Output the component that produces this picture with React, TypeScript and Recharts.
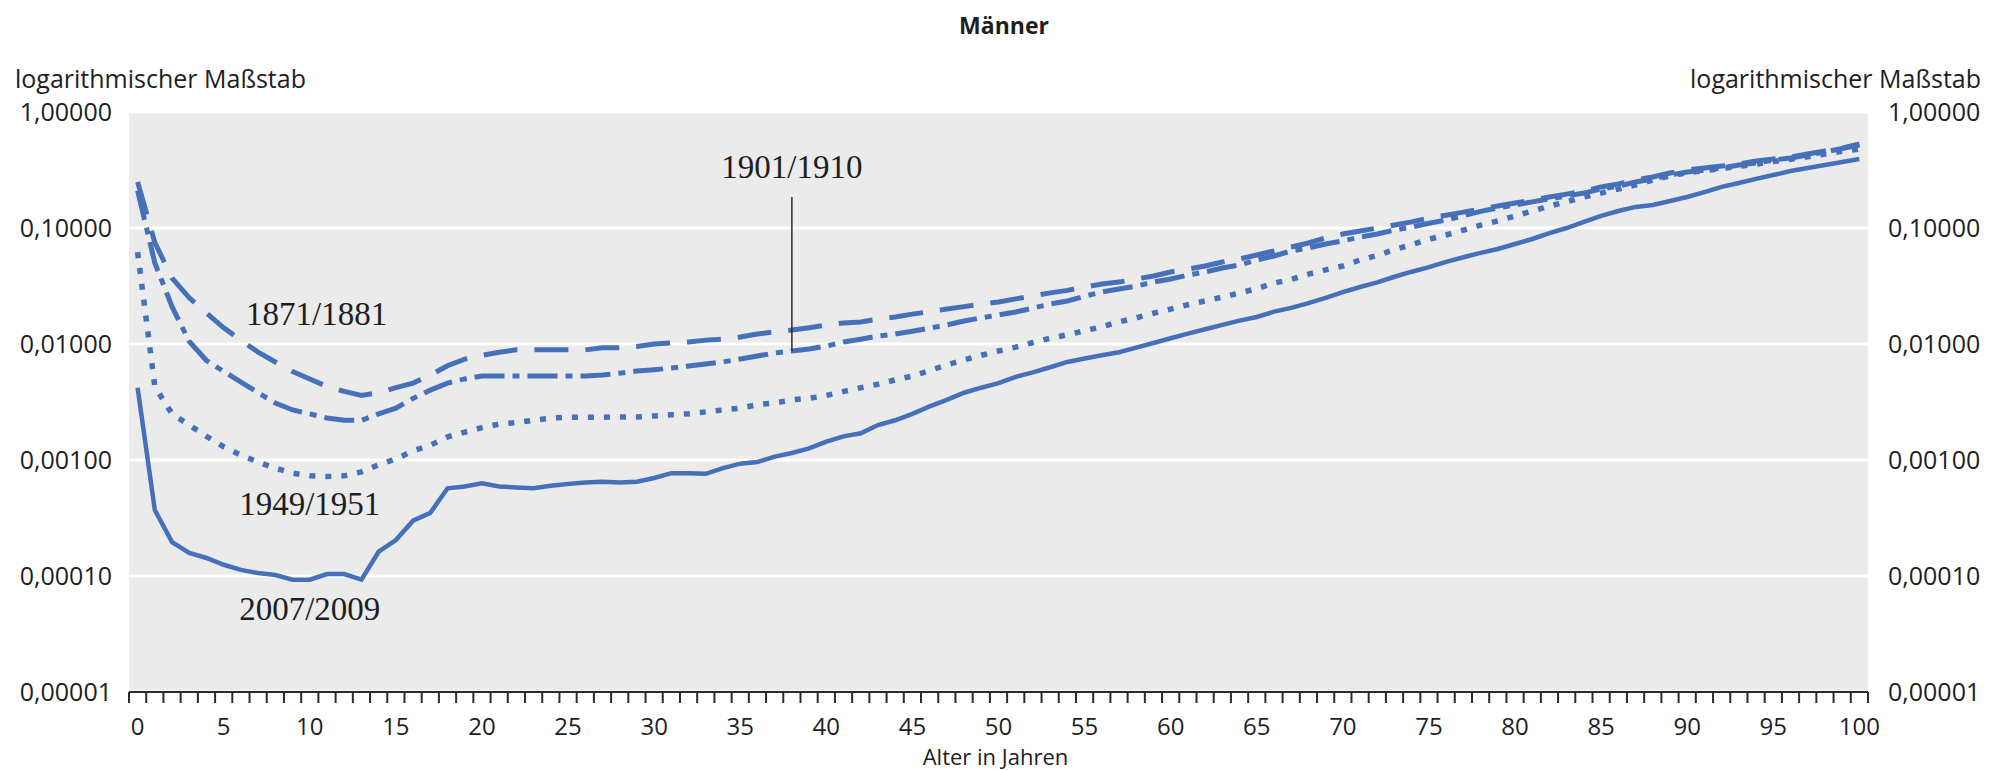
import {
  CartesianGrid,
  Line,
  LineChart,
  ReferenceDot,
  ReferenceLine,
  XAxis,
  YAxis,
} from "recharts";

// Sterbewahrscheinlichkeiten (qx), Männer, Alter 0 bis 100
const ages = [
  0, 1, 2, 3, 4, 5, 6, 7, 8, 9, 10, 11, 12, 13, 14, 15, 16, 17, 18, 19, 20,
  21, 22, 23, 24, 25, 26, 27, 28, 29, 30, 31, 32, 33, 34, 35, 36, 37, 38, 39,
  40, 41, 42, 43, 44, 45, 46, 47, 48, 49, 50, 51, 52, 53, 54, 55, 56, 57, 58,
  59, 60, 61, 62, 63, 64, 65, 66, 67, 68, 69, 70, 71, 72, 73, 74, 75, 76, 77,
  78, 79, 80, 81, 82, 83, 84, 85, 86, 87, 88, 89, 90, 91, 92, 93, 94, 95, 96,
  97, 98, 99, 100,
];

const q1871 = [
  0.25, 0.075, 0.037, 0.025, 0.0185, 0.0138, 0.0108, 0.0085, 0.007, 0.0058,
  0.005, 0.0043, 0.0039, 0.0036, 0.0038, 0.0042, 0.0046, 0.0054, 0.0065,
  0.0074, 0.008, 0.0085, 0.0089, 0.0089, 0.0089, 0.0089, 0.0089, 0.0093,
  0.0093, 0.0095, 0.01, 0.0102, 0.0104, 0.0108, 0.011, 0.0115, 0.0122, 0.0127,
  0.0132, 0.0138, 0.0146, 0.0152, 0.0155, 0.0164, 0.0171, 0.0181, 0.019,
  0.02, 0.021, 0.0221, 0.023, 0.0245, 0.026, 0.0276, 0.029, 0.031, 0.0329,
  0.0342, 0.0363, 0.0386, 0.0418, 0.0443, 0.047, 0.0509, 0.0541, 0.0585,
  0.0634, 0.0686, 0.0743, 0.082, 0.0887, 0.0942, 0.1, 0.106, 0.113, 0.122,
  0.129, 0.137, 0.146, 0.155, 0.164, 0.174, 0.185, 0.196, 0.208, 0.226, 0.24,
  0.259, 0.275, 0.298, 0.316, 0.329, 0.342, 0.356, 0.378, 0.394, 0.409, 0.435,
  0.461, 0.49, 0.53,
];

const q1901 = [
  0.21, 0.05, 0.021, 0.0105, 0.0072, 0.0058, 0.0047, 0.0038, 0.0031, 0.0027,
  0.0025, 0.0023, 0.0022, 0.0022, 0.0025, 0.0028, 0.0034, 0.004, 0.0046,
  0.005, 0.0053, 0.0053, 0.0053, 0.0053, 0.0053, 0.0053, 0.0053, 0.0054,
  0.0056, 0.00585, 0.006, 0.0062, 0.00646, 0.00672, 0.007, 0.00743, 0.00788,
  0.00836, 0.0087, 0.00906, 0.0096, 0.0104, 0.011, 0.0117, 0.0122, 0.0129,
  0.0137, 0.0146, 0.0158, 0.0168, 0.0178, 0.0189, 0.0204, 0.0221, 0.0235,
  0.0258, 0.0281, 0.0298, 0.0316, 0.0342, 0.0363, 0.0393, 0.0418, 0.0452,
  0.048, 0.053, 0.0574, 0.0634, 0.0673, 0.0728, 0.0773, 0.0836, 0.0887,
  0.0961, 0.102, 0.11, 0.117, 0.128, 0.139, 0.149, 0.158, 0.168, 0.178, 0.189,
  0.2, 0.217, 0.23, 0.249, 0.265, 0.286, 0.304, 0.316, 0.329, 0.349, 0.363,
  0.386, 0.401, 0.426, 0.452, 0.485, 0.52,
];

const q1949 = [
  0.062, 0.0043, 0.0025, 0.002, 0.0016, 0.0013, 0.0011, 0.00096, 0.00085,
  0.00077, 0.00073, 0.00072, 0.00073, 0.00079, 0.00091, 0.00102, 0.0012,
  0.00134, 0.00158, 0.00174, 0.0019, 0.00204, 0.0021, 0.0022, 0.0023,
  0.00234, 0.00234, 0.00234, 0.00235, 0.00235, 0.0024, 0.00245, 0.0025,
  0.0026, 0.0027, 0.0028, 0.003, 0.0031, 0.0033, 0.0034, 0.0036, 0.0039,
  0.0042, 0.0045, 0.0049, 0.0053, 0.0059, 0.0066, 0.0073, 0.008, 0.0087,
  0.0094, 0.0103, 0.0112, 0.012, 0.013, 0.0141, 0.0155, 0.0168, 0.0184, 0.02,
  0.0218, 0.0235, 0.0254, 0.0275, 0.03, 0.0335, 0.036, 0.04, 0.0436, 0.047,
  0.053, 0.058, 0.065, 0.072, 0.08, 0.087, 0.096, 0.106, 0.115, 0.127, 0.14,
  0.155, 0.168, 0.185, 0.2, 0.217, 0.235, 0.259, 0.281, 0.3, 0.312, 0.325,
  0.34, 0.355, 0.375, 0.392, 0.412, 0.435, 0.458, 0.48,
];

const q2007 = [
  0.0042, 0.00037, 0.000196, 0.000158, 0.000143, 0.000125, 0.000113,
  0.000106, 0.000102, 0.000093, 0.000093, 0.000104, 0.000104, 0.000093,
  0.000162, 0.000204, 0.0003, 0.00035, 0.00057, 0.00059, 0.00063, 0.00059,
  0.00058, 0.00057, 0.0006, 0.00062, 0.00064, 0.00065, 0.00064, 0.00065,
  0.0007, 0.00077, 0.00077, 0.00076, 0.00085, 0.00093, 0.00096, 0.00107,
  0.00115, 0.00126, 0.00144, 0.0016, 0.0017, 0.002, 0.0022, 0.0025, 0.0029,
  0.0033, 0.0038, 0.0042, 0.0046, 0.0052, 0.0057, 0.0063, 0.007, 0.0075,
  0.008, 0.0085, 0.0093, 0.0102, 0.0112, 0.0123, 0.0134, 0.0146, 0.0159,
  0.0171, 0.019, 0.0205, 0.0225, 0.025, 0.028, 0.031, 0.034, 0.038, 0.042,
  0.046, 0.051, 0.056, 0.061, 0.0659, 0.0728, 0.0804, 0.0905, 0.1, 0.113,
  0.127, 0.14, 0.152, 0.158, 0.171, 0.185, 0.204, 0.226, 0.244, 0.265, 0.286,
  0.31, 0.329, 0.349, 0.371, 0.394,
];

const yTicks = [0.00001, 0.0001, 0.001, 0.01, 0.1, 1];

const seriesLabels = [
  { text: "1871/1881", age: 10.4, q: 0.0185 },
  { text: "1901/1910", age: 38, q: 0.342 },
  { text: "1949/1951", age: 10, q: 0.00042 },
  { text: "2007/2009", age: 10, q: 0.000053 },
];

// Hinweislinie von "1901/1910" auf die Kurve
const pointer = { age: 38, from: 0.185, to: 0.0087 };

const W = 1991;
const H = 771;
const LEFT_W = 129;
const RIGHT_W = 123;
const STEP = (W - LEFT_W - RIGHT_W) / ages.length;

const BLUE = "#4670b9";
const AXIS = "#2b2b2b";
const TEXT = "#1e1e1e";
const SANS = "'Open Sans', sans-serif";
const SERIF = "'Liberation Serif', serif";

const data = ages.map((age, i) => ({
  age,
  q1871: q1871[i],
  q1901: q1901[i],
  q1949: q1949[i],
  q2007: q2007[i],
}));

const fmt = (v: number) => v.toFixed(5).replace(".", ",");

function AgeTick(props: any) {
  const { x, y, payload } = props;
  const v = payload.value as number;
  const half = STEP / 2;
  return (
    <g>
      <line x1={x - half} x2={x - half} y1={y} y2={y + 11} stroke={AXIS} strokeWidth={2} />
      {v === ages[ages.length - 1] && (
        <line x1={x + half} x2={x + half} y1={y} y2={y + 11} stroke={AXIS} strokeWidth={2} />
      )}
      {v % 5 === 0 && (
        <text
          x={x}
          y={y + 34}
          dy="0.355em"
          textAnchor="middle"
          fill={TEXT}
          fontSize={24}
          fontFamily={SANS}
        >
          {v}
        </text>
      )}
    </g>
  );
}

const overlay = {
  position: "absolute" as const,
  fontFamily: SANS,
  color: TEXT,
  lineHeight: 1,
  whiteSpace: "nowrap" as const,
};

export default function App() {
  return (
    <div style={{ position: "absolute", left: 0, top: 0, width: W, height: H, background: "#fff" }}>
      <div style={{ ...overlay, left: 904, width: 200, top: 14, textAlign: "center", fontSize: 23, fontWeight: 700 }}>
        Männer
      </div>
      <div style={{ ...overlay, left: 15, top: 66, fontSize: 25 }}>logarithmischer Maßstab</div>
      <div style={{ ...overlay, right: 10, top: 66, fontSize: 25 }}>logarithmischer Maßstab</div>
      <div style={{ ...overlay, left: 0, width: W, top: 745, textAlign: "center", fontSize: 22 }}>
        Alter in Jahren
      </div>

      <LineChart width={W} height={H} data={data} margin={{ top: 112, right: 0, bottom: 0, left: 0 }}>
        <CartesianGrid
          yAxisId="left"
          vertical={false}
          stroke="#ffffff"
          strokeWidth={3}
          fill="#ebebeb"
          fillOpacity={1}
        />
        <XAxis
          dataKey="age"
          type="number"
          domain={[-0.5, 100.5]}
          ticks={ages}
          interval={0}
          height={79}
          tickSize={0}
          tickMargin={0}
          tickLine={false}
          axisLine={{ stroke: AXIS, strokeWidth: 2 }}
          tick={(p: any) => <AgeTick {...p} />}
        />
        <YAxis
          yAxisId="left"
          type="number"
          scale="log"
          domain={[0.00001, 1]}
          ticks={yTicks}
          interval={0}
          allowDataOverflow
          width={LEFT_W}
          tickSize={0}
          tickMargin={17}
          axisLine={false}
          tickLine={false}
          tickFormatter={fmt}
          tick={{ fill: TEXT, fontSize: 25, fontFamily: SANS }}
        />
        <YAxis
          yAxisId="right"
          orientation="right"
          type="number"
          scale="log"
          domain={[0.00001, 1]}
          ticks={yTicks}
          interval={0}
          allowDataOverflow
          width={RIGHT_W}
          tickSize={0}
          tickMargin={20}
          axisLine={false}
          tickLine={false}
          tickFormatter={fmt}
          tick={{ fill: TEXT, fontSize: 25, fontFamily: SANS, textAnchor: "start" }}
        />
        <Line
          yAxisId="left"
          type="linear"
          dataKey="q1871"
          stroke={BLUE}
          strokeWidth={5}
          strokeDasharray="34 17"
          dot={false}
          isAnimationActive={false}
        />
        <Line
          yAxisId="left"
          type="linear"
          dataKey="q1901"
          stroke={BLUE}
          strokeWidth={5}
          strokeDasharray="30 8 7 8"
          dot={false}
          isAnimationActive={false}
        />
        <Line
          yAxisId="left"
          type="linear"
          dataKey="q1949"
          stroke={BLUE}
          strokeWidth={5.5}
          strokeDasharray="6 10"
          dot={false}
          isAnimationActive={false}
        />
        <Line
          yAxisId="left"
          type="linear"
          dataKey="q2007"
          stroke={BLUE}
          strokeWidth={4.5}
          dot={false}
          isAnimationActive={false}
        />
        <ReferenceLine
          yAxisId="left"
          segment={[
            { x: pointer.age, y: pointer.from },
            { x: pointer.age, y: pointer.to },
          ]}
          stroke={AXIS}
          strokeWidth={1.5}
        />
        {seriesLabels.map((l) => (
          <ReferenceDot
            key={l.text}
            yAxisId="left"
            x={l.age}
            y={l.q}
            r={0}
            fill="none"
            stroke="none"
            ifOverflow="visible"
            label={{
              value: l.text,
              position: "center",
              fill: TEXT,
              fontSize: 33,
              fontFamily: SERIF,
            }}
          />
        ))}
      </LineChart>
    </div>
  );
}
